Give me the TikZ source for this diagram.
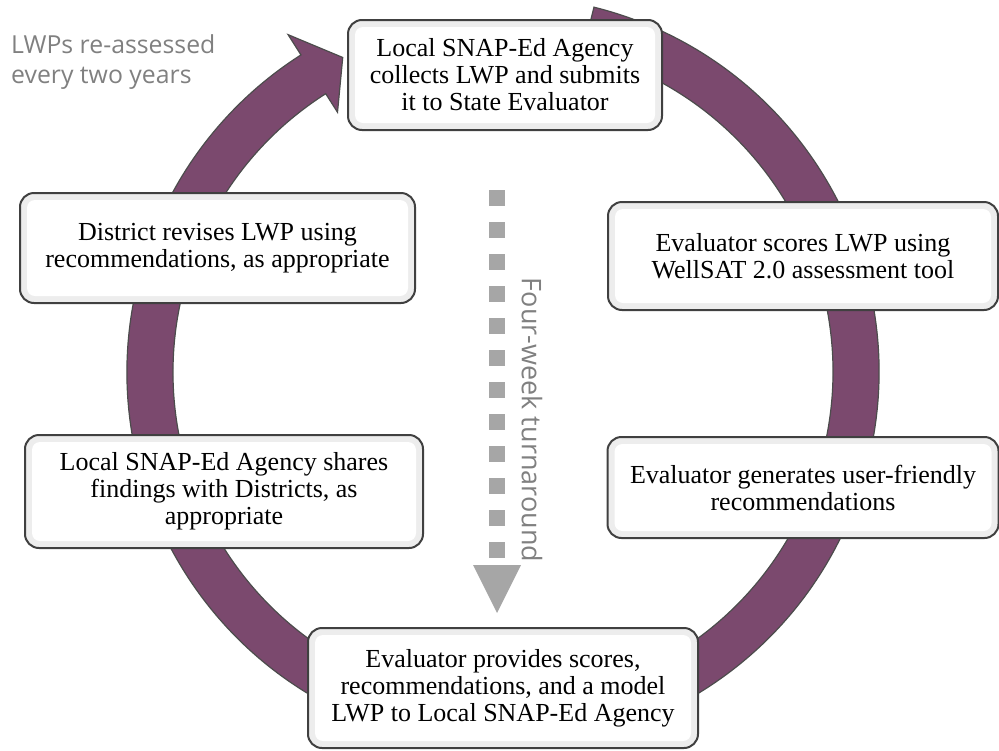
\documentclass[tikz,border=0pt]{standalone}
\usepackage{fontspec}
\setmainfont{Liberation Serif}
\newfontfamily\notefont{Open Sans}
\usetikzlibrary{arrows.meta}
\definecolor{plum}{RGB}{123,73,110}

\begin{document}
\begin{tikzpicture}[x=1pt, y=-1pt, stage/.style={draw=black!75, line width=2pt, rounded corners=14pt, fill=black!7, align=center, font=\fontsize{26}{27}\selectfont, path picture={\fill[white, rounded corners=8pt] ([shift={(7pt,7pt)}]path picture bounding box.south west) rectangle ([shift={(-7pt,-7pt)}]path picture bounding box.north east);}}, ring/.style={fill=plum, draw=black!70, line width=1.2pt}, tick/.style={draw=black!35, line width=16pt, dash pattern=on 16pt off 16pt}, note/.style={text=black!50, font=\notefont\fontsize{24.8}{30}\selectfont}]
\useasboundingbox (0,0) rectangle (999,750);

\begin{scope}[shift={(503,372)}]
\draw[ring] (-76:376) arc[start angle=-76, end angle=237.5, radius=376] -- (237.5:400) -- (243:353) -- (237.5:308) -- (237.5:330) arc[start angle=237.5, end angle=-76, radius=330] -- cycle;
\end{scope}

\node[stage, minimum width=314pt, minimum height=110pt] (collect) at (505,75) {Local SNAP-Ed Agency\\collects LWP and submits\\it to State Evaluator};
\node[stage, minimum width=390pt, minimum height=108pt] (score) at (803,256) {Evaluator scores LWP using\\WellSAT 2.0 assessment tool};
\node[stage, minimum width=391pt, minimum height=101pt] (recom) at (803,487.5) {Evaluator generates user-friendly\\recommendations};
\node[stage, minimum width=390pt, minimum height=120pt] (provide) at (503,688) {Evaluator provides scores,\\recommendations, and a model\\LWP to Local SNAP-Ed Agency};
\node[stage, minimum width=398pt, minimum height=113pt] (share) at (224,491.5) {Local SNAP-Ed Agency shares\\findings with Districts, as\\appropriate};
\node[stage, minimum width=395pt, minimum height=110pt] (revise) at (217.5,248) {District revises LWP using\\recommendations, as appropriate};

\coordinate (from) at (497,190); \coordinate (to) at (497,613);
\draw[tick, -{Triangle[width=48pt, length=48pt, line width=0pt]}] (from) -- (to);
\node[note, rotate=-90, font=\notefont\fontsize{27}{30}\selectfont] (turn) at (532,420) {Four-week turnaround};
\node[note, align=left, anchor=north west, inner sep=0pt] (cycle) at (11,34) {LWPs re-assessed\\every two years};
\end{tikzpicture}
\end{document}
